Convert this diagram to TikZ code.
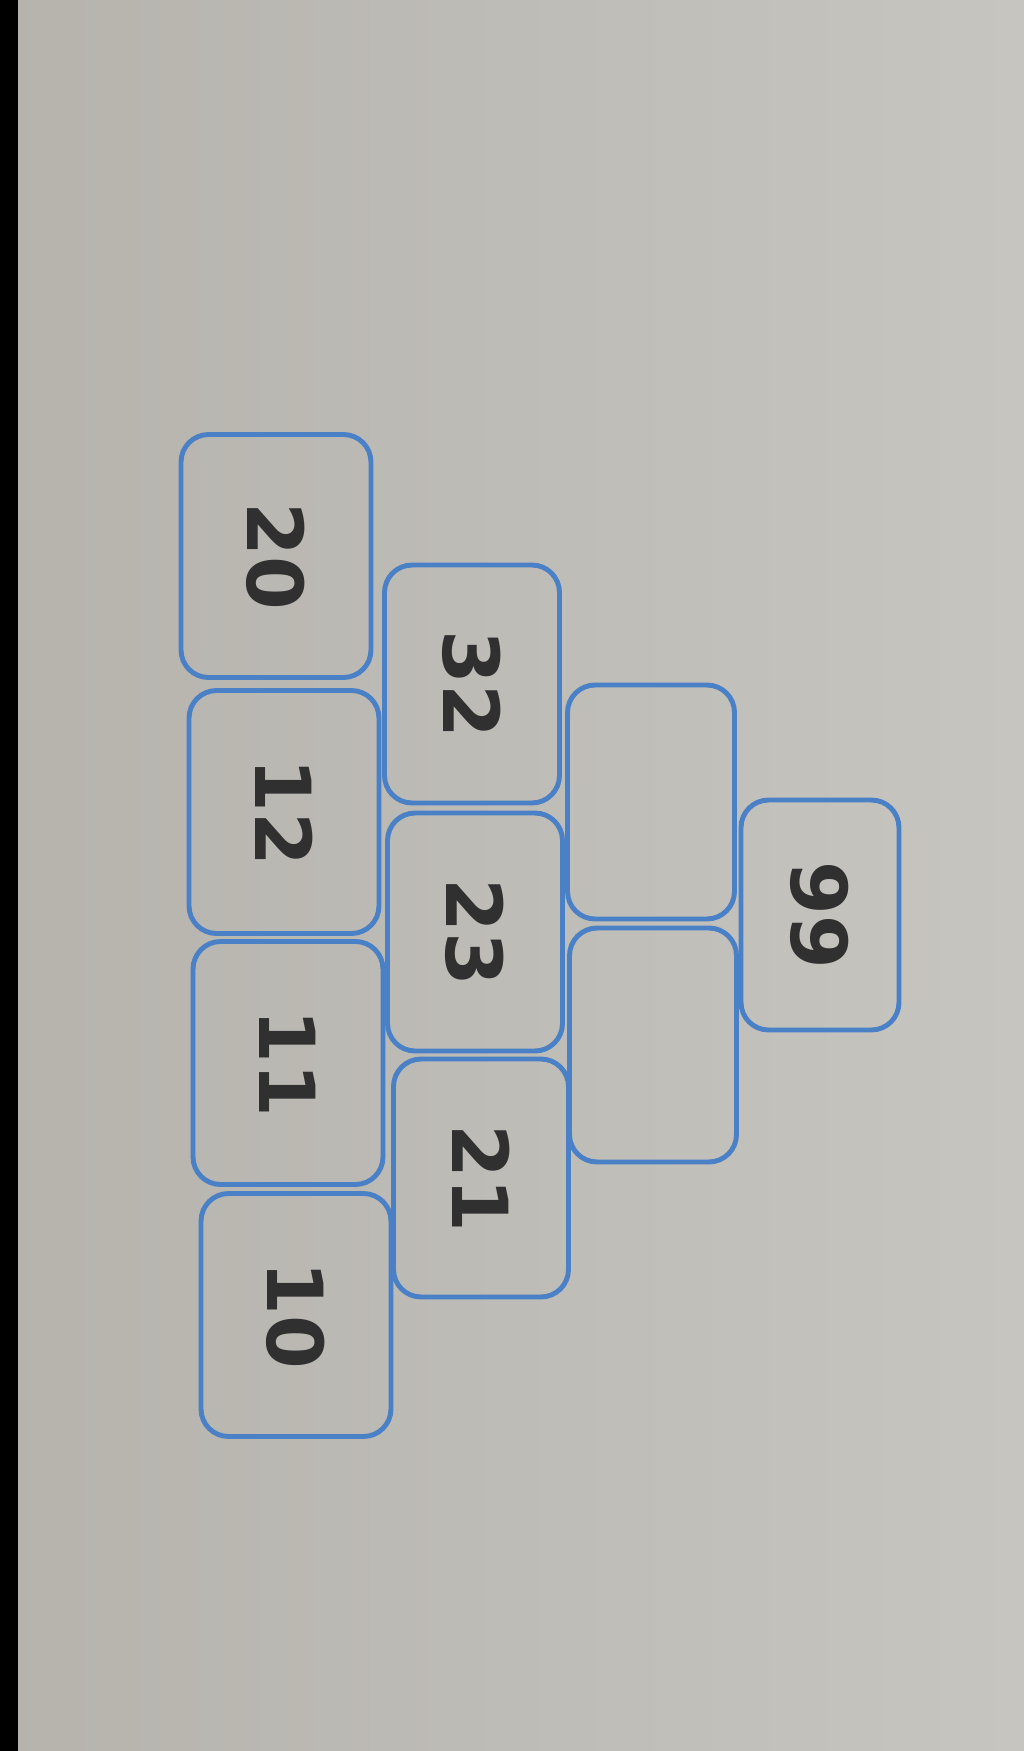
\documentclass[tikz,border=0pt]{standalone}
\usepackage{fontspec}
\setmainfont{DejaVu Sans}
\definecolor{paper}{HTML}{C6C5C0}
\definecolor{paperdark}{HTML}{B6B3AD}
\definecolor{cellblue}{HTML}{4A80C6}
\definecolor{digit}{HTML}{303030}

\begin{document}
\begin{tikzpicture}[x=0.02cm,y=-0.02cm,
    cell/.style={draw=cellblue, line width=2.8pt, rounded corners=0.55cm,
      rotate=-90, inner sep=0pt, text=digit,
      font=\fontsize{44}{48}\selectfont\bfseries},
    row1/.style={cell, minimum width=4.86cm, minimum height=3.8cm},
    row2/.style={cell, minimum width=4.76cm, minimum height=3.5cm},
    row3/.style={cell, minimum width=4.68cm, minimum height=3.34cm},
    row4/.style={cell, minimum width=4.6cm, minimum height=3.16cm}]
    % paper and the dark edge of the photo
    \useasboundingbox (0,0) rectangle (1024,1751);
    \shade[left color=paperdark, right color=paper] (0,0) rectangle (1024,1751);
    \fill[black] (0,0) rectangle (18,1751);
    % bottom row of the pyramid
    \node[row1] (c20) at (276,556) {20};
    \node[row1] (c12) at (284,812) {12};
    \node[row1] (c11) at (288,1063) {11};
    \node[row1] (c10) at (296,1315) {10};
    % second row
    \node[row2] (c32) at (472,684) {32};
    \node[row2] (c23) at (475,932) {23};
    \node[row2] (c21) at (481,1178) {21};
    % third row, left empty
    \node[row3] (blankA) at (651,802) {};
    \node[row3] (blankB) at (653,1045) {};
    % top
    \node[row4] (c99) at (820,915) {99};
\end{tikzpicture}
\end{document}
